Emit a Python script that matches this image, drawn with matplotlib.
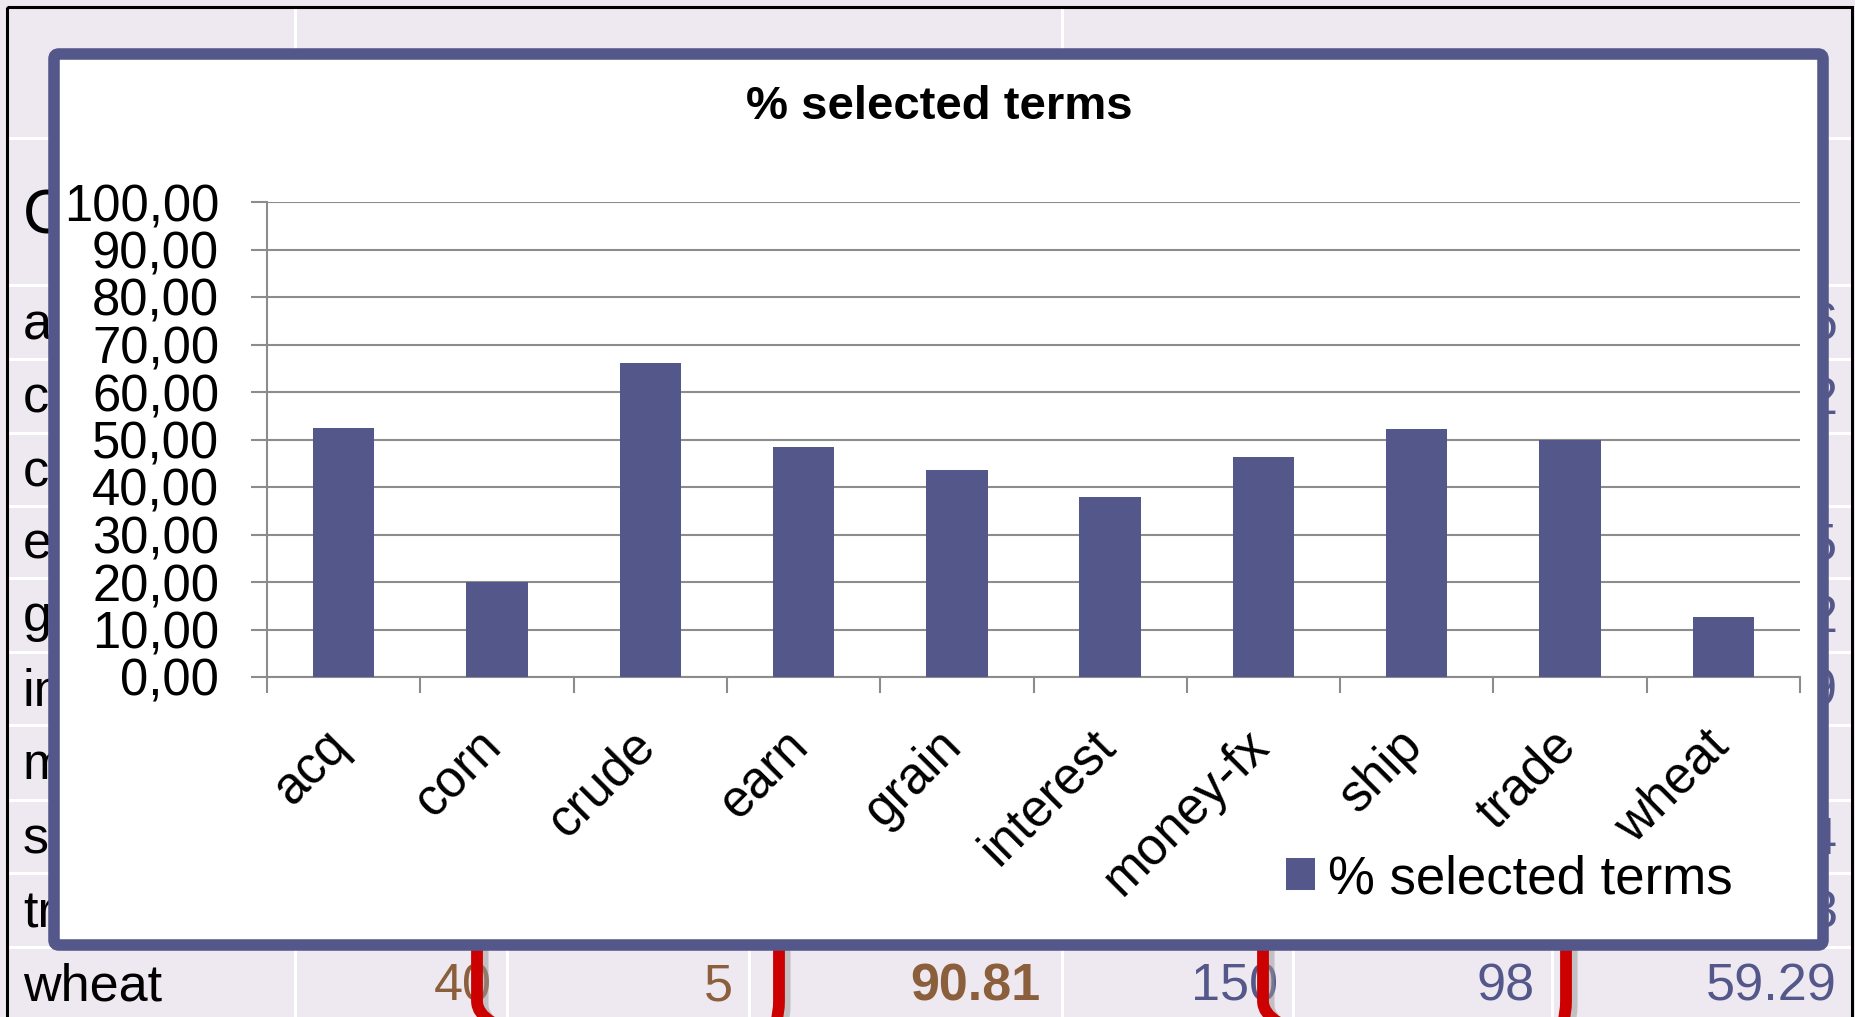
import numpy as np
import matplotlib
matplotlib.use("Agg")
import matplotlib.pyplot as plt
import matplotlib.transforms as mtransforms
from matplotlib.patches import FancyBboxPatch, Rectangle, Patch

plt.rcParams['font.family'] = ['Liberation Sans', 'DejaVu Sans']

# chart data
categories = ['acq', 'corn', 'crude', 'earn', 'grain', 'interest',
              'money-fx', 'ship', 'trade', 'wheat']
pct_selected = [52.5, 20.1, 66.2, 48.5, 43.5, 37.8, 46.3, 52.2, 50.0, 12.6]
series_name = '% selected terms'
yticks = np.arange(0, 101, 10)

# slide table behind the chart (only partly visible)
table_header = 'Category'
wheat_row = ['40', '5', '90.81', '150', '98', '59.29']
wheat_row_colors = ['#8b5e3c', '#8b5e3c', '#8b5e3c', '#54578a', '#54578a', '#54578a']
last_col_tails = ['6', '2', '', '5', '2', '9', '', '4', '3']

bar_color = '#54578a'
bg_color = '#eee8f0'
grid_gray = '#8c8c8c'

W, H = 1855, 1017
fig = plt.figure(figsize=(W / 100, H / 100), dpi=100, facecolor=bg_color)

# background layer in pixel coordinates
bg = fig.add_axes([0, 0, 1, 1], zorder=0)
bg.set_xlim(0, W)
bg.set_ylim(H, 0)
bg.axis('off')

row_lines = [138, 285, 359, 433, 506, 578, 652, 725, 800, 873, 947]
col_lines = [295, 507, 749, 1062, 1293, 1552]
for y in row_lines:
    bg.plot([8, 1852], [y, y], color='white', lw=2.2, zorder=1)
for x in col_lines:
    bg.plot([x, x], [285, H], color='white', lw=2.2, zorder=1)
for x in [295, 1062]:
    bg.plot([x, x], [8, 138], color='white', lw=2.2, zorder=1)

bg.text(23, 216, table_header, fontsize=45, va='center', ha='left', zorder=2)
row_centers = [(a + b) / 2 for a, b in zip(row_lines[1:], row_lines[2:] + [1021])]
for i, name in enumerate(categories):
    bg.text(23, row_centers[i] + 3, name, fontsize=37.5, va='center', ha='left', zorder=2)
for i, tail in enumerate(last_col_tails):
    bg.text(1837, row_centers[i] + 4, tail, fontsize=37.5, va='center', ha='right',
            color='#54578a', zorder=2)
col_right = [492, 733, 1040, 1278, 1535, 1837]
for j, val in enumerate(wheat_row):
    bg.text(col_right[j], row_centers[-1] + 3, val, fontsize=37.5, va='center', ha='right',
            color=wheat_row_colors[j], fontweight='bold' if j == 2 else 'normal', zorder=2)

# black slide border
bg.add_patch(Rectangle((7, 7), 1845, 1100, fill=False, edgecolor='black', lw=2.2, zorder=3))

# red callouts with a soft shadow
for x0, x1 in [(477, 779), (1263, 1566)]:
    bg.add_patch(FancyBboxPatch((x0 + 6, 870), x1 - x0, 185,
                                boxstyle='round,pad=0,rounding_size=50',
                                fill=False, edgecolor='#999999', lw=8, alpha=0.5, zorder=3))
    bg.add_patch(FancyBboxPatch((x0, 866), x1 - x0, 185,
                                boxstyle='round,pad=0,rounding_size=50',
                                fill=False, edgecolor='#cc0000', lw=8.5, zorder=4))

# chart frame
bg.add_patch(FancyBboxPatch((54, 54), 1769, 891,
                            boxstyle='round,pad=0,rounding_size=5',
                            facecolor='white', edgecolor=bar_color, lw=8.3, zorder=5))
bg.text(939, 107, series_name, fontsize=34, fontweight='bold',
        ha='center', va='center', zorder=6)

# bar chart
ax = fig.add_axes([267 / W, 1 - 677 / H, (1800 - 267) / W, (677 - 202) / H], zorder=1)
ax.patch.set_alpha(0)
x = np.arange(len(categories))
ax.bar(x, pct_selected, width=0.4, color=bar_color, zorder=3)
ax.set_xlim(-0.5, len(categories) - 0.5)
ax.set_ylim(0, 100)
ax.set_yticks(yticks)
ax.set_yticklabels([f'{v:.2f}'.replace('.', ',') for v in yticks])
ax.set_xticks(x)
ax.set_xticklabels([])
ax.set_xticks(np.arange(-0.5, len(categories), 1), minor=True)

# rotated category labels, ending just right of each bar centre
shift = mtransforms.ScaledTranslation(15 / 100, -44 / 100, fig.dpi_scale_trans)
for i, name in enumerate(categories):
    ax.text(i, 0, name, transform=ax.get_xaxis_transform() + shift,
            rotation=45, ha='right', va='top', fontsize=37)

ax.yaxis.grid(True, color=grid_gray, lw=1.5)
ax.set_axisbelow(True)
for s in ['top', 'right']:
    ax.spines[s].set_visible(False)
for s in ['left', 'bottom']:
    ax.spines[s].set_color(grid_gray)
    ax.spines[s].set_linewidth(1.5)

ax.tick_params(axis='y', direction='out', length=11.5, width=1.5, color=grid_gray,
               pad=23, labelsize=36.5)
ax.tick_params(axis='x', which='major', length=0)
ax.tick_params(axis='x', which='minor', direction='out', length=11.5, width=1.5,
               color=grid_gray)

fig.legend(handles=[Patch(facecolor=bar_color, label=series_name)],
           loc='center left', bbox_to_anchor=(1286 / W, 1 - 879 / H),
           frameon=False, fontsize=38, handlelength=0.55, handleheight=0.55,
           handletextpad=0.25, borderpad=0, borderaxespad=0)

fig.savefig('out.png', dpi=100, facecolor=bg_color)
